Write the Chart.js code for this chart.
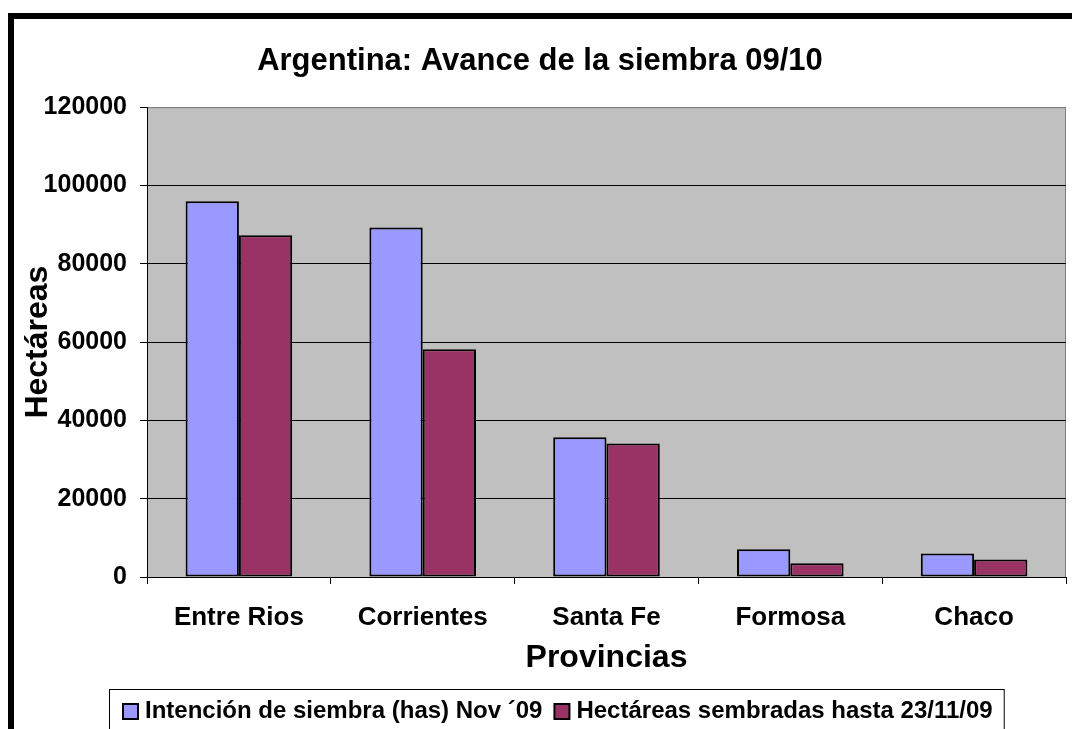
<!DOCTYPE html>
<html>
<head>
<meta charset="utf-8">
<script src="https://cdn.jsdelivr.net/npm/chart.js"></script>
<style>
  html, body { margin: 0; padding: 0; background: #fff; }
  #wrap { width: 1072px; height: 729px; }
</style>
</head>
<body>
<div id="wrap"><canvas id="chart" width="1072" height="729"></canvas></div>
<script>
// ------------------------
// DATA
// ------------------------
const provincias = ["Entre Rios", "Corrientes", "Santa Fe", "Formosa", "Chaco"];
const intencion = [96000, 89300, 35700, 7100, 6000];
const sembradas = [87300, 58200, 34100, 3500, 4500];
const serieNames = ["Intención de siembra (has) Nov ´09", "Hectáreas sembradas hasta 23/11/09"];

const FONT = '"Liberation Sans", Arial, sans-serif';

// ------------------------
// FRAME, PLOT BACKGROUND, LEGEND BOX
// ------------------------
const excelLook = {
  id: "excelLook",
  beforeDraw(chart) {
    const { ctx, chartArea: a } = chart;
    ctx.save();
    ctx.fillStyle = "#fff";
    ctx.fillRect(0, 0, chart.width, chart.height);
    // thick outer frame (only top + left visible)
    ctx.fillStyle = "#000";
    ctx.fillRect(8, 13, chart.width - 8, 6);
    ctx.fillRect(8, 13, 6, chart.height - 13);
    // plot area
    ctx.fillStyle = "#c0c0c0";
    ctx.fillRect(a.left, a.top, a.right - a.left, a.bottom - a.top);
    ctx.strokeStyle = "#808080";
    ctx.lineWidth = 1;
    ctx.strokeRect(a.left + 0.5, a.top + 0.5, a.right - a.left - 1, a.bottom - a.top);
    ctx.restore();
  },
  afterDraw(chart) {
    const ctx = chart.ctx;
    ctx.save();
    ctx.font = "bold 24px " + FONT;
    const box = 15, gapText = 7, gapItem = 12;
    const items = chart.data.datasets.map(ds => ({
      label: ds.label,
      color: ds.backgroundColor,
      w: ctx.measureText(ds.label).width
    }));
    const total = items.reduce((s, it) => s + box + gapText + it.w, 0) + gapItem * (items.length - 1);
    let x = Math.round(558 - total / 2);
    const y = 711;

    // legend border
    ctx.strokeStyle = "#000";
    ctx.lineWidth = 1;
    ctx.strokeRect(x - 13.5, 689.5, total + 25, chart.height);

    ctx.textBaseline = "middle";
    ctx.textAlign = "left";
    items.forEach(it => {
      ctx.fillStyle = it.color;
      ctx.fillRect(x, y - 7, box, box);
      ctx.strokeStyle = "#000";
      ctx.lineWidth = 2;
      ctx.strokeRect(x, y - 7, box, box);
      ctx.fillStyle = "#000";
      ctx.fillText(it.label, x + box + gapText, y);
      x += box + gapText + it.w + gapItem;
    });
    ctx.restore();
  }
};

// ------------------------
// CHART
// ------------------------
const ctx = document.getElementById("chart").getContext("2d");

new Chart(ctx, {
  type: "bar",
  data: {
    labels: provincias,
    datasets: [
      {
        label: serieNames[0],
        data: intencion,
        backgroundColor: "#9999ff",
        borderColor: "#000",
        borderWidth: 2,
        borderSkipped: false
      },
      {
        label: serieNames[1],
        data: sembradas,
        backgroundColor: "#993366",
        borderColor: "#000",
        borderWidth: 2,
        borderSkipped: false
      }
    ]
  },
  options: {
    responsive: false,
    animation: false,
    devicePixelRatio: 1,
    layout: {
      padding: { top: 0, left: 14, right: 6, bottom: 35 }
    },
    datasets: {
      bar: {
        categoryPercentage: 0.58,
        barPercentage: 1
      }
    },
    plugins: {
      legend: { display: false },
      tooltip: { enabled: false },
      title: {
        display: true,
        text: "Argentina: Avance de la siembra 09/10",
        color: "#000",
        font: { family: FONT, size: 31, weight: "bold" },
        padding: { top: 43, bottom: 27 }
      }
    },
    scales: {
      x: {
        offset: true,
        grid: {
          offset: true,
          drawOnChartArea: false,
          tickLength: 7,
          tickColor: "#000",
          color: "#000"
        },
        border: { color: "#000", width: 1 },
        ticks: {
          color: "#000",
          padding: 18,
          maxRotation: 0,
          font: { family: FONT, size: 26, weight: "bold" }
        },
        title: {
          display: true,
          text: "Provincias",
          color: "#000",
          font: { family: FONT, size: 32, weight: "bold" },
          padding: { top: 0, bottom: 17 }
        },
        afterFit: scale => { scale.height = 117; }
      },
      y: {
        min: 0,
        max: 120000,
        grid: {
          color: c => (c.tick && c.tick.value === 120000 ? "#808080" : "#000"),
          tickColor: "#000",
          tickLength: 7
        },
        border: { color: "#000", width: 1 },
        ticks: {
          stepSize: 20000,
          color: "#000",
          padding: 13,
          font: { family: FONT, size: 25, weight: "bold" },
          callback: v => String(v)
        },
        title: {
          display: true,
          text: "Hectáreas",
          color: "#000",
          font: { family: FONT, size: 32, weight: "bold" },
          padding: { top: 5, bottom: 0 }
        },
        afterFit: scale => { scale.width = 133; }
      }
    }
  },
  plugins: [excelLook]
});
</script>
</body>
</html>
